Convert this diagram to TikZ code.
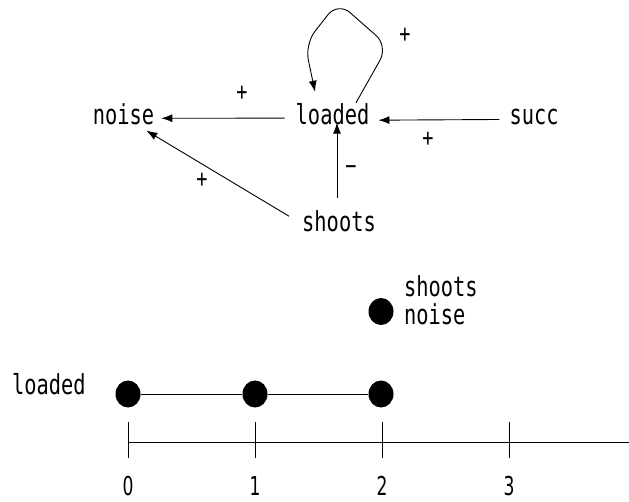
\documentclass[tikz,border=0pt]{standalone}
\usepackage{fontspec}
\newfontfamily\dm[FakeStretch=0.74]{DejaVu Sans Mono}
\newfontfamily\ds[FakeStretch=0.66]{DejaVu Sans}
\usetikzlibrary{arrows.meta,calc,shapes.geometric}
\tikzset{
  lbl/.style={font=\dm\fontsize{27.5}{30}\selectfont, inner sep=0pt, anchor=base},
  dig/.style={font=\ds\fontsize{26}{28}\selectfont, inner sep=0pt, anchor=base},
  sgn/.style={font=\dm\fontsize{25}{27}\selectfont, inner sep=0pt},
  arr/.style={-{Latex[length=11pt,width=8pt]}, line width=0.9pt},
  dot/.style={ellipse, fill=black, minimum width=25pt, minimum height=27pt, inner sep=0pt},
  ln/.style={line width=0.9pt},
}
\begin{document}
\begin{tikzpicture}[x=1pt,y=-1pt]
\useasboundingbox (0,0) rectangle (629,502);
% graph
\node[lbl] (noise) at (123.5,125) {noise};
\node[lbl] (loaded) at (332.5,125) {loaded};
\node[lbl] (succ) at (534,125) {succ};
\node[lbl] (shoots) at (339,232) {shoots};
\draw[arr] ($(loaded.west)+(-11,3.5)$) -- ($(noise.east)+(7,3.5)$);
\draw[arr] ($(succ.west)+(-10,2)$) -- ($(loaded.east)+(9,5.5)$);
\draw[arr] ($(shoots.north)+(-2,-13)$) -- ($(loaded.south)+(4.5,-3)$);
\draw[arr] ($(shoots.west)+(-13,-5.5)$) -- ($(noise.south east)+(-8,5)$);
\draw[arr, rounded corners=16pt] ($(loaded.north)+(23.5,-1)$) -- (388,46) -- (338,2) -- (305,44) -- ($(loaded.north)+(-17.5,-12)$);
\node[sgn] (p1) at (242,93) {+};
\node[sgn] (p2) at (405,35) {+};
\node[sgn] (p3) at (428,139) {+};
\node[sgn] (m1) at (351,170) {−};
\node[sgn] (p4) at (202,180) {+};
% timeline
\node[dot] (ds) at (381,311.5) {};
\node[lbl, anchor=base west] (ts) at (404,297) {shoots};
\node[lbl, anchor=base west] (tn) at (404,325) {noise};
\node[lbl, anchor=base west] (tl) at (12,395) {loaded};
\node[dot] (d0) at (128,394) {};
\node[dot] (d1) at (255,394) {};
\node[dot] (d2) at (381,394) {};
\draw[ln] (d0) -- (d1);
\draw[ln] (d1) -- (d2);
\coordinate (a0) at (128,442);
\coordinate (aend) at (629,442);
\draw[ln] (a0) -- (aend);
\foreach \x/\t in {128/0,255/1,382/2,509/3}{
  \coordinate (t\t) at (\x,442);
  \draw[ln] ($(t\t)+(0,-20)$) -- ($(t\t)+(0,16)$);
  \node[dig] (n\t) at (\x,495) {\t};
}
\end{tikzpicture}
\end{document}
